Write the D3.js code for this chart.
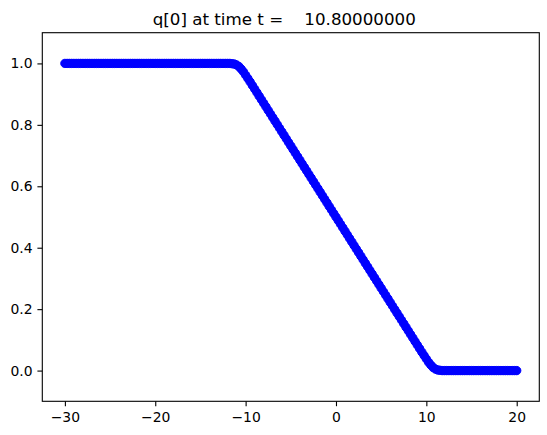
<!DOCTYPE html>
<html>
<head>
	<meta charset="utf-8">
	<title>q[0] at time t</title>
	<script src="https://d3js.org/d3.v7.min.js"></script>
	<style>
		body { margin: 0; background: #fff; }
		text { font-family: "DejaVu Sans", sans-serif; fill: #000; }
	</style>
</head>
<body>
<svg id="plot"></svg>
<script>
// title and tick labels
var title = "q[0] at time t =    10.80000000";
var xTicks = [-30, -20, -10, 0, 10, 20];
var yTicks = [0.0, 0.2, 0.4, 0.6, 0.8, 1.0];

// cell centres
var qx = [
  -30,-29.75,-29.5,-29.25,-29,-28.75,-28.5,-28.25,
  -28,-27.75,-27.5,-27.25,-27,-26.75,-26.5,-26.25,
  -26,-25.75,-25.5,-25.25,-25,-24.75,-24.5,-24.25,
  -24,-23.75,-23.5,-23.25,-23,-22.75,-22.5,-22.25,
  -22,-21.75,-21.5,-21.25,-21,-20.75,-20.5,-20.25,
  -20,-19.75,-19.5,-19.25,-19,-18.75,-18.5,-18.25,
  -18,-17.75,-17.5,-17.25,-17,-16.75,-16.5,-16.25,
  -16,-15.75,-15.5,-15.25,-15,-14.75,-14.5,-14.25,
  -14,-13.75,-13.5,-13.25,-13,-12.75,-12.5,-12.25,
  -12,-11.75,-11.5,-11.25,-11,-10.75,-10.5,-10.25,
  -10,-9.75,-9.5,-9.25,-9,-8.75,-8.5,-8.25,
  -8,-7.75,-7.5,-7.25,-7,-6.75,-6.5,-6.25,
  -6,-5.75,-5.5,-5.25,-5,-4.75,-4.5,-4.25,
  -4,-3.75,-3.5,-3.25,-3,-2.75,-2.5,-2.25,
  -2,-1.75,-1.5,-1.25,-1,-0.75,-0.5,-0.25,
  0,0.25,0.5,0.75,1,1.25,1.5,1.75,
  2,2.25,2.5,2.75,3,3.25,3.5,3.75,
  4,4.25,4.5,4.75,5,5.25,5.5,5.75,
  6,6.25,6.5,6.75,7,7.25,7.5,7.75,
  8,8.25,8.5,8.75,9,9.25,9.5,9.75,
  10,10.25,10.5,10.75,11,11.25,11.5,11.75,
  12,12.25,12.5,12.75,13,13.25,13.5,13.75,
  14,14.25,14.5,14.75,15,15.25,15.5,15.75,
  16,16.25,16.5,16.75,17,17.25,17.5,17.75,
  18,18.25,18.5,18.75,19,19.25,19.5,19.75,
  20
];

// q[0]
var qy = [
  1,1,1,1,1,1,1,1,
  1,1,1,1,1,1,1,1,
  1,1,1,1,1,1,1,1,
  1,1,1,1,1,1,1,1,
  1,1,1,1,1,1,1,1,
  1,1,1,1,1,1,1,1,
  1,1,1,1,1,1,1,1,
  1,1,1,1,1,1,1,1,
  1,1,1,1,1,1,1,1,
  1,1,0.999,0.998,0.995,0.990,0.982,0.973,
  0.962,0.951,0.9398,0.9282,0.9167,0.9051,0.8935,0.8819,
  0.8704,0.8588,0.8472,0.8356,0.8241,0.8125,0.8009,0.7894,
  0.7778,0.7662,0.7546,0.7431,0.7315,0.7199,0.7083,0.6968,
  0.6852,0.6736,0.6620,0.6505,0.6389,0.6273,0.6157,0.6042,
  0.5926,0.5810,0.5694,0.5579,0.5463,0.5347,0.5231,0.5116,
  0.5,0.4884,0.4769,0.4653,0.4537,0.4421,0.4306,0.4190,
  0.4074,0.3958,0.3843,0.3727,0.3611,0.3495,0.3380,0.3264,
  0.3148,0.3032,0.2917,0.2801,0.2685,0.2569,0.2454,0.2338,
  0.2222,0.2106,0.1991,0.1875,0.1759,0.1644,0.1528,0.1412,
  0.1296,0.1181,0.1065,0.0949,0.0833,0.0718,0.0602,0.049,
  0.038,0.027,0.018,0.010,0.005,0.002,0.001,0,
  0,0,0,0,0,0,0,0,
  0,0,0,0,0,0,0,0,
  0,0,0,0,0,0,0,0,
  0,0,0,0,0,0,0,0,
  0
];

var W = 547, H = 435;
var margin = {top: 32.7, right: 7.7, bottom: 33.7, left: 42.3};
var width = W - margin.left - margin.right,
    height = H - margin.top - margin.bottom;

var svg = d3.select("#plot")
    .attr("width", W)
    .attr("height", H);

var g = svg.append("g")
    .attr("transform", "translate(" + margin.left + "," + margin.top + ")");

// matplotlib style 5% padding
var x = d3.scaleLinear().domain([-32.5, 22.5]).range([0, width]);
var y = d3.scaleLinear().domain([-0.1, 1.1]).range([height, 0]);

var data = qx.map(function(d, i) { return {x: d, y: qy[i]}; });

// markers
g.append("g")
  .selectAll("circle")
  .data(data)
  .enter().append("circle")
    .attr("cx", function(d) { return x(d.x); })
    .attr("cy", function(d) { return y(d.y); })
    .attr("r", 4.17)
    .attr("fill", "#0000ff")
    .attr("stroke", "#0000ff")
    .attr("stroke-width", 1);

// axes
var xAxis = g.append("g")
    .attr("transform", "translate(0," + height + ")")
    .call(d3.axisBottom(x).tickValues(xTicks).tickFormat(d3.format("d"))
      .tickSize(4.9).tickPadding(6).tickSizeOuter(0));

var yAxis = g.append("g")
    .call(d3.axisLeft(y).tickValues(yTicks).tickFormat(d3.format(".1f"))
      .tickSize(4.9).tickPadding(4.9).tickSizeOuter(0));

[xAxis, yAxis].forEach(function(a) {
  a.select(".domain").remove();
  a.selectAll("line").attr("stroke", "#000").attr("stroke-width", 1.1);
  a.selectAll("text").attr("font-size", "13.9px").attr("font-family", "DejaVu Sans");
});

// frame
g.append("rect")
    .attr("width", width)
    .attr("height", height)
    .attr("fill", "none")
    .attr("stroke", "#000")
    .attr("stroke-width", 1.1);

// title
svg.append("text")
    .attr("x", 152.7)
    .attr("y", 25)
    .attr("font-size", "16.7px")
    .style("white-space", "pre")
    .text(title);
</script>
</body>
</html>
